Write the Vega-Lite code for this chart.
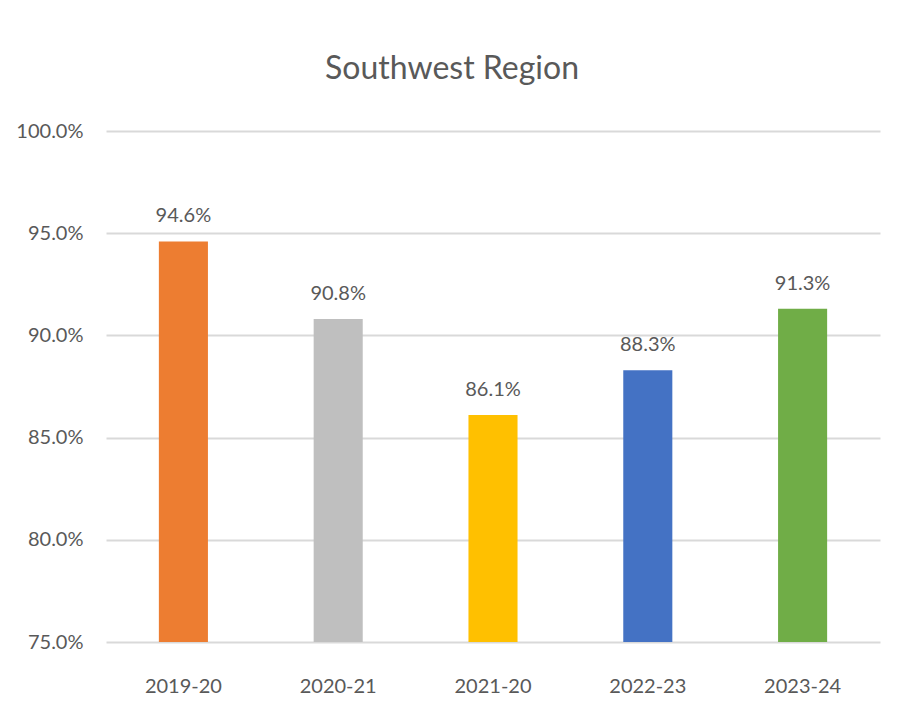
{
  "$schema": "https://vega.github.io/schema/vega-lite/v6.json",
  "width": 774,
  "height": 511,
  "autosize": {"type": "none"},
  "padding": {"left": 106, "top": 131, "right": 22, "bottom": 73},
  "background": "white",
  "title": {
    "text": "Southwest Region",
    "font": "Lato",
    "fontSize": 32,
    "fontWeight": "normal",
    "color": "#595959",
    "anchor": "middle",
    "dx": -41,
    "offset": 35
  },
  "data": {
    "values": [
      {"year": "2019-20", "rate": 0.946},
      {"year": "2020-21", "rate": 0.908},
      {"year": "2021-20", "rate": 0.861},
      {"year": "2022-23", "rate": 0.883},
      {"year": "2023-24", "rate": 0.913}
    ]
  },
  "encoding": {
    "x": {
      "field": "year",
      "type": "nominal",
      "sort": null,
      "scale": {"paddingInner": 0.683, "paddingOuter": 0.3415},
      "axis": {
        "title": null,
        "labelAngle": 0,
        "domain": false,
        "ticks": false,
        "tickSize": 0,
        "labelFont": "Lato",
        "labelFontSize": 20,
        "labelColor": "#595959",
        "labelBaseline": "alphabetic",
        "labelPadding": 50
      }
    }
  },
  "layer": [
    {
      "mark": {"type": "bar"},
      "encoding": {
        "y": {
          "field": "rate",
          "type": "quantitative",
          "scale": {"domain": [0.75, 1.0], "zero": false, "nice": false},
          "axis": {
            "title": null,
            "format": ".1%",
            "values": [0.75, 0.8, 0.85, 0.9, 0.95, 1.0],
            "domain": false,
            "ticks": false,
            "tickSize": 0,
            "grid": true,
            "gridColor": "#d9d9d9",
            "gridWidth": 2,
            "labelFont": "Lato",
            "labelFontSize": 20,
            "labelColor": "#595959",
            "labelPadding": 23
          }
        },
        "y2": {"datum": 0.75},
        "color": {
          "field": "year",
          "type": "nominal",
          "sort": null,
          "scale": {"range": ["#ED7D31", "#BFBFBF", "#FFC000", "#4472C4", "#70AD47"]},
          "legend": null
        }
      }
    },
    {
      "mark": {
        "type": "text",
        "baseline": "alphabetic",
        "dy": -19,
        "font": "Lato",
        "fontSize": 20,
        "color": "#595959"
      },
      "encoding": {
        "y": {"field": "rate", "type": "quantitative"},
        "text": {"field": "rate", "type": "quantitative", "format": ".1%"}
      }
    }
  ],
  "config": {"view": {"stroke": null}}
}
